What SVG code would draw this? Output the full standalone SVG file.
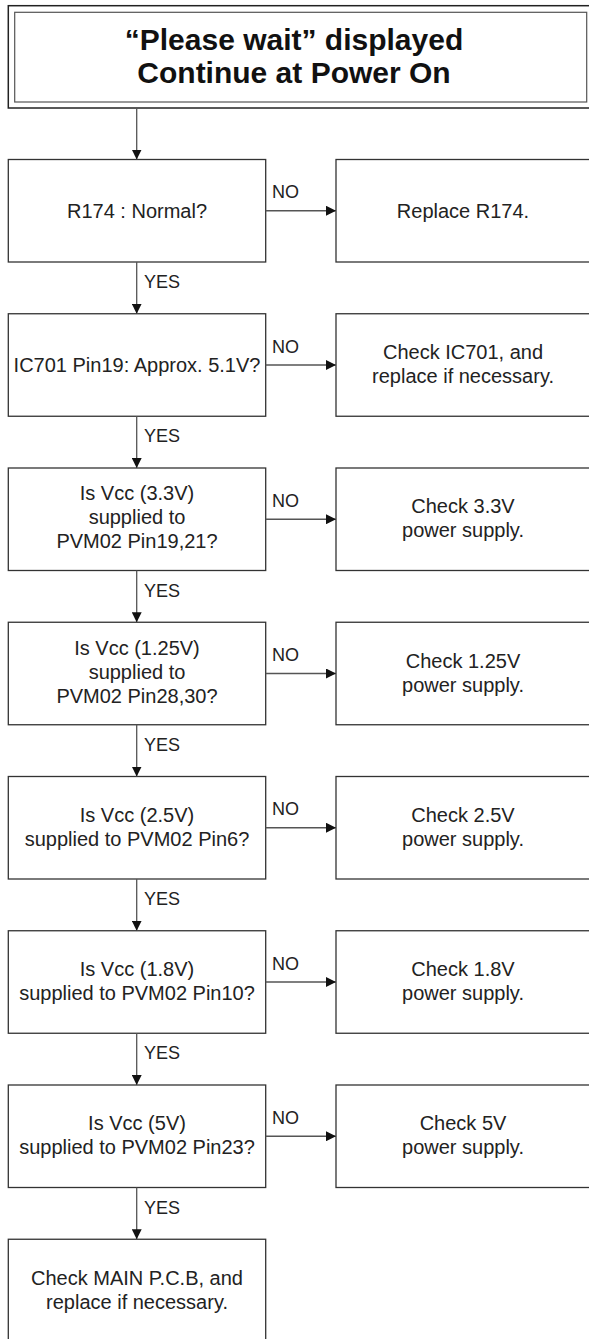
<svg xmlns="http://www.w3.org/2000/svg" width="589" height="1339" viewBox="0 0 589 1339">
<style>
.box{fill:#fff;stroke:#333;stroke-width:1.3}
.ln{fill:none;stroke:#555;stroke-width:1.3}
.t{font-family:"Liberation Sans",Arial,Helvetica,sans-serif;font-size:20px;fill:#222;text-anchor:middle}
.lb{font-family:"Liberation Sans",Arial,Helvetica,sans-serif;font-size:18px;fill:#222}
.title{font-family:"Liberation Sans",Arial,Helvetica,sans-serif;font-size:30px;font-weight:bold;fill:#111;text-anchor:middle}
</style>
<defs>
<marker id="ah" markerUnits="userSpaceOnUse" markerWidth="10" markerHeight="10" refX="10" refY="5" orient="auto">
<path d="M0,0 L10,5 L0,10 Z" fill="#111"/>
</marker>
</defs>
<rect width="589" height="1339" fill="#fff"/>

<g id="title">
<rect x="8.3" y="5.7" width="600" height="102.3" fill="#fff" stroke="#222" stroke-width="1.5"/>
<rect x="14.7" y="12.3" width="572" height="89.7" fill="none" stroke="#555" stroke-width="1.2"/>
<text class="title" x="294" y="50">“Please wait” displayed</text>
<text class="title" x="294" y="83.3">Continue at Power On</text>
</g>

<g id="q1"><rect class="box" x="8.3" y="159.5" width="257.4" height="102.5"/><text class="t" x="137" y="217.75">R174 : Normal?</text></g>
<g id="a1"><rect class="box" x="336" y="159.5" width="270" height="102.5"/><text class="t" x="463" y="217.75">Replace R174.</text></g>

<g id="q2"><rect class="box" x="8.3" y="313.75" width="257.4" height="102.5"/><text class="t" x="137" y="372">IC701 Pin19: Approx. 5.1V?</text></g>
<g id="a2"><rect class="box" x="336" y="313.75" width="270" height="102.5"/><text class="t" x="463" y="359">Check IC701, and</text><text class="t" x="463" y="383">replace if necessary.</text></g>

<g id="q3"><rect class="box" x="8.3" y="468" width="257.4" height="102.5"/><text class="t" x="137" y="500.25">Is Vcc (3.3V)</text><text class="t" x="137" y="524.25">supplied to</text><text class="t" x="137" y="548.25">PVM02 Pin19,21?</text></g>
<g id="a3"><rect class="box" x="336" y="468" width="270" height="102.5"/><text class="t" x="463" y="513.25">Check 3.3V</text><text class="t" x="463" y="537.25">power supply.</text></g>

<g id="q4"><rect class="box" x="8.3" y="622.25" width="257.4" height="102.5"/><text class="t" x="137" y="654.5">Is Vcc (1.25V)</text><text class="t" x="137" y="678.5">supplied to</text><text class="t" x="137" y="702.5">PVM02 Pin28,30?</text></g>
<g id="a4"><rect class="box" x="336" y="622.25" width="270" height="102.5"/><text class="t" x="463" y="667.5">Check 1.25V</text><text class="t" x="463" y="691.5">power supply.</text></g>

<g id="q5"><rect class="box" x="8.3" y="776.5" width="257.4" height="102.5"/><text class="t" x="137" y="821.75">Is Vcc (2.5V)</text><text class="t" x="137" y="845.75">supplied to PVM02 Pin6?</text></g>
<g id="a5"><rect class="box" x="336" y="776.5" width="270" height="102.5"/><text class="t" x="463" y="821.75">Check 2.5V</text><text class="t" x="463" y="845.75">power supply.</text></g>

<g id="q6"><rect class="box" x="8.3" y="930.75" width="257.4" height="102.5"/><text class="t" x="137" y="976">Is Vcc (1.8V)</text><text class="t" x="137" y="1000">supplied to PVM02 Pin10?</text></g>
<g id="a6"><rect class="box" x="336" y="930.75" width="270" height="102.5"/><text class="t" x="463" y="976">Check 1.8V</text><text class="t" x="463" y="1000">power supply.</text></g>

<g id="q7"><rect class="box" x="8.3" y="1085" width="257.4" height="102.5"/><text class="t" x="137" y="1130.25">Is Vcc (5V)</text><text class="t" x="137" y="1154.25">supplied to PVM02 Pin23?</text></g>
<g id="a7"><rect class="box" x="336" y="1085" width="270" height="102.5"/><text class="t" x="463" y="1130.25">Check 5V</text><text class="t" x="463" y="1154.25">power supply.</text></g>

<g id="final"><rect class="box" x="8.3" y="1239.25" width="257.4" height="110"/><text class="t" x="137" y="1284.5">Check MAIN P.C.B, and</text><text class="t" x="137" y="1308.5">replace if necessary.</text></g>

<g id="connectors">
<line class="ln" x1="136.7" y1="108" x2="136.7" y2="159.5" marker-end="url(#ah)"/>
<line class="ln" x1="136.7" y1="262" x2="136.7" y2="313.75" marker-end="url(#ah)"/>
<line class="ln" x1="136.7" y1="416.25" x2="136.7" y2="468" marker-end="url(#ah)"/>
<line class="ln" x1="136.7" y1="570.5" x2="136.7" y2="622.25" marker-end="url(#ah)"/>
<line class="ln" x1="136.7" y1="724.75" x2="136.7" y2="776.5" marker-end="url(#ah)"/>
<line class="ln" x1="136.7" y1="879" x2="136.7" y2="930.75" marker-end="url(#ah)"/>
<line class="ln" x1="136.7" y1="1033.25" x2="136.7" y2="1085" marker-end="url(#ah)"/>
<line class="ln" x1="136.7" y1="1187.5" x2="136.7" y2="1239.25" marker-end="url(#ah)"/>
<line class="ln" x1="265.7" y1="210.75" x2="336" y2="210.75" marker-end="url(#ah)"/>
<line class="ln" x1="265.7" y1="365" x2="336" y2="365" marker-end="url(#ah)"/>
<line class="ln" x1="265.7" y1="519.25" x2="336" y2="519.25" marker-end="url(#ah)"/>
<line class="ln" x1="265.7" y1="673.5" x2="336" y2="673.5" marker-end="url(#ah)"/>
<line class="ln" x1="265.7" y1="827.75" x2="336" y2="827.75" marker-end="url(#ah)"/>
<line class="ln" x1="265.7" y1="982" x2="336" y2="982" marker-end="url(#ah)"/>
<line class="ln" x1="265.7" y1="1136.25" x2="336" y2="1136.25" marker-end="url(#ah)"/>
<text class="lb" x="272" y="198.25">NO</text>
<text class="lb" x="272" y="352.5">NO</text>
<text class="lb" x="272" y="506.75">NO</text>
<text class="lb" x="272" y="661">NO</text>
<text class="lb" x="272" y="815.25">NO</text>
<text class="lb" x="272" y="969.5">NO</text>
<text class="lb" x="272" y="1123.75">NO</text>
<text class="lb" x="144" y="288">YES</text>
<text class="lb" x="144" y="442.25">YES</text>
<text class="lb" x="144" y="596.5">YES</text>
<text class="lb" x="144" y="750.75">YES</text>
<text class="lb" x="144" y="905">YES</text>
<text class="lb" x="144" y="1059.25">YES</text>
<text class="lb" x="144" y="1213.5">YES</text>
</g>
</svg>
